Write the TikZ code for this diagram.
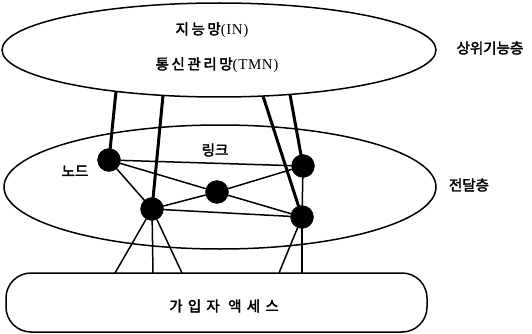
\documentclass[tikz,border=0pt]{standalone}
\usepackage{fontspec}
\setmainfont{Liberation Serif}
\newfontfamily\kr[FakeBold=2.5]{Noto Sans CJK KR}
\newfontfamily\krt[FakeBold=2.5,LetterSpace=18]{Noto Sans CJK KR}
\newfontfamily\krw[FakeBold=2.5,LetterSpace=36]{Noto Sans CJK KR}
\newfontfamily\lat[LetterSpace=4]{Liberation Serif}
\usetikzlibrary{shapes.geometric}
\begin{document}
\begin{tikzpicture}[x=1pt,y=-1pt,
  layer/.style={draw,line width=1.5pt,ellipse,inner sep=0pt},
  netnode/.style={circle,fill=black,draw=black,minimum size=23pt,inner sep=0pt},
  link/.style={line width=1.5pt},
  trunk/.style={line width=3pt},
  lbl/.style={font=\kr\fontsize{14.5}{16}\selectfont,inner sep=0pt},
  toplbl/.style={font=\krt\fontsize{14.5}{16}\selectfont,inner sep=0pt},
  widelbl/.style={font=\krw\fontsize{14.5}{16}\selectfont,inner sep=0pt}]
\useasboundingbox (0,0) rectangle (532,334);
% layers
\node[layer,minimum width=434pt,minimum height=94pt] (top) at (219,50) {};
\node[layer,minimum width=432pt,minimum height=124pt] (mid) at (220,187) {};
\node[draw,line width=1.5pt,rounded corners=25pt,minimum width=421pt,minimum height=59pt] (acc) at (216.5,302.5) {};
% texts
\node[toplbl] (t1) at (212,30) {지능망{\lat\fontsize{15}{16}\selectfont(IN)}};
\node[toplbl] (t2) at (217,65) {통신관리망{\lat\fontsize{15}{16}\selectfont(TMN)}};
\node[lbl] (t3) at (490,48) {상위기능층};
\node[lbl] (t4) at (469,185) {전달층};
\node[lbl] (t5) at (75,171) {노드};
\node[lbl] (t6) at (215,150) {링크};
\node[widelbl] (t7) at (224,306) {가입자 액세스};
% nodes
\node[netnode] (n1) at (109,160) {};
\node[netnode] (n2) at (303,166) {};
\node[netnode] (n3) at (217,192) {};
\node[netnode] (n4) at (152,209) {};
\node[netnode] (n5) at (302,217) {};
% anchor coordinates
\coordinate (a1) at (116,91.4);
\coordinate (a2) at (163,95.4);
\coordinate (a3) at (263,96);
\coordinate (a4) at (290,94.4);
\coordinate (b1) at (115,273);
\coordinate (b2) at (153,273);
\coordinate (b3) at (182,273);
\coordinate (b4) at (279,273);
\coordinate (b5) at (302,273);
% trunks
\draw[trunk] (a1) -- (n1.center);
\draw[trunk] (a2) -- (n4.center);
\draw[trunk] (a3) -- (n5.center);
\draw[trunk] (a4) -- (n2.center);
% links
\draw[link] (n1) -- (n2);
\draw[link] (n1) -- (n3);
\draw[link] (n3) -- (n2);
\draw[link] (n1) -- (n4);
\draw[link] (n4) -- (n3);
\draw[link] (n3) -- (n5);
\draw[link] (n4) -- (n5);
\draw[link] (n2) -- (n5);
% access lines
\draw[link] (n4) -- (b1);
\draw[link] (n4.center) -- (b2);
\draw[link] (n4) -- (b3);
\draw[link] (n5) -- (b4);
\draw[link] (n5.center) -- (b5);
\end{tikzpicture}
\end{document}
